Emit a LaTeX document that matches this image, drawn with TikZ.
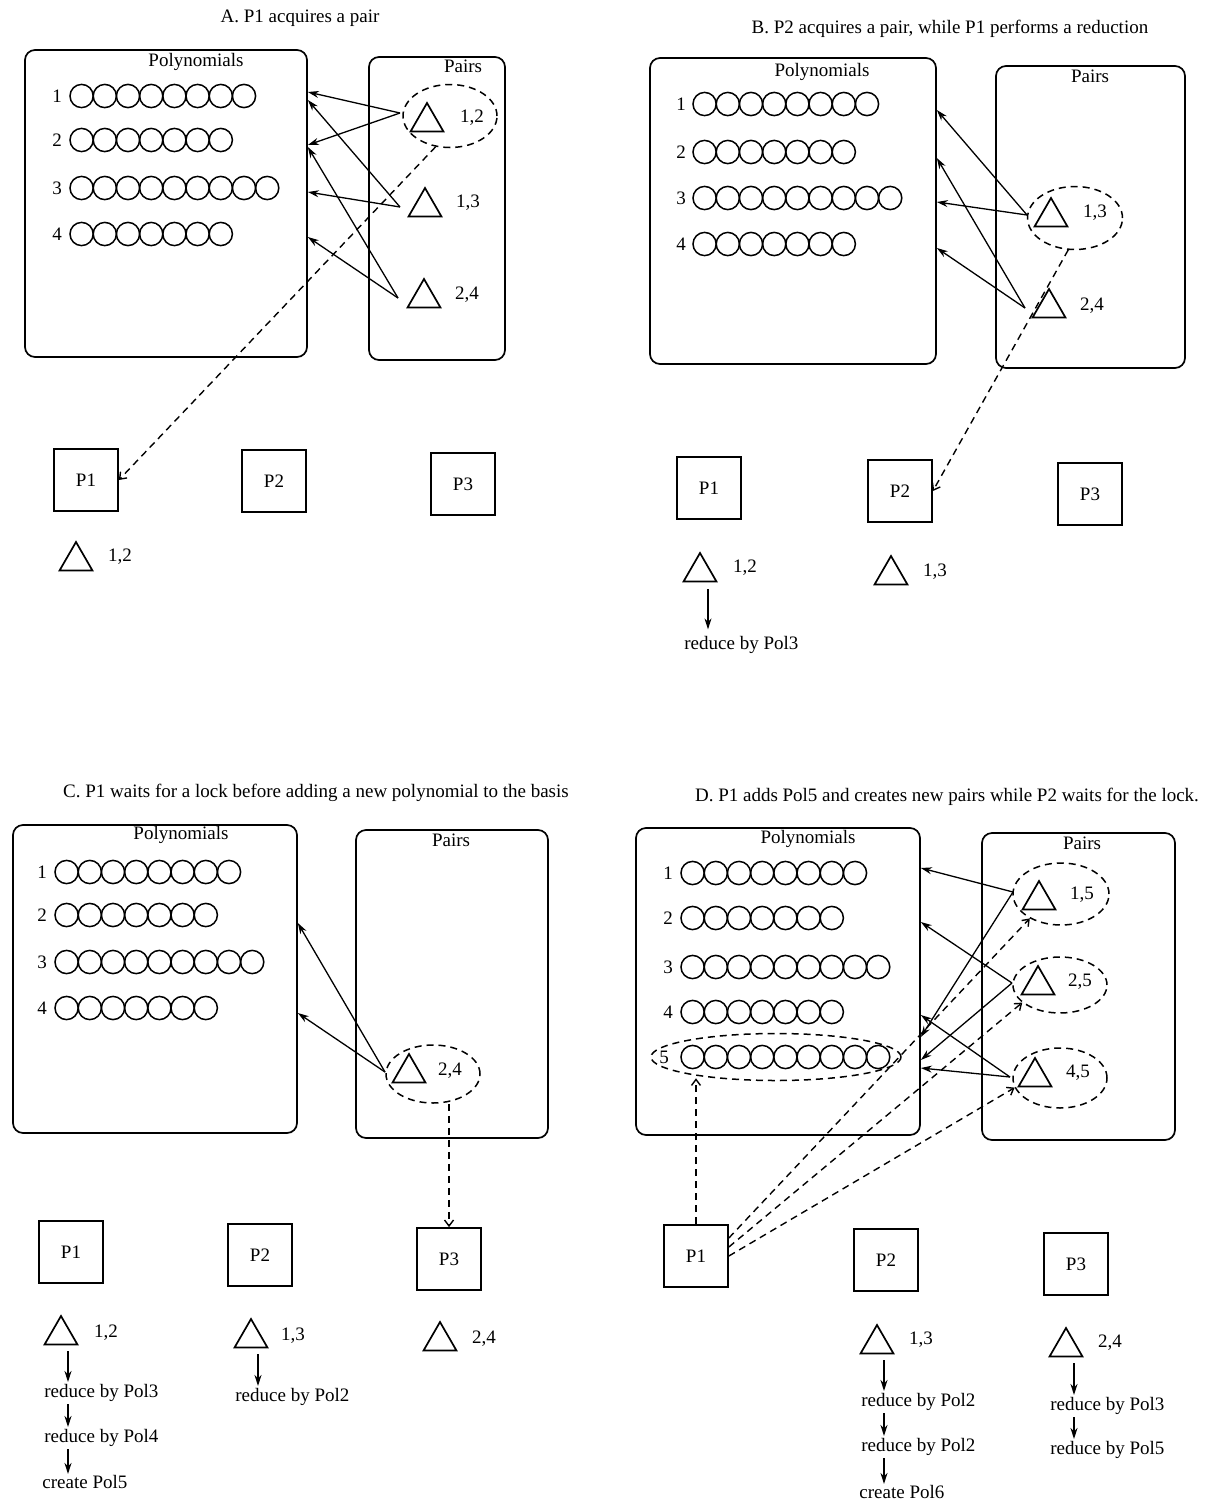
\documentclass[tikz,border=0pt]{standalone}
\usepackage{fontspec}
\setmainfont{Liberation Serif}
\usetikzlibrary{shapes.geometric,arrows.meta,calc,fit}
\newcommand\polrow[6]{%
  \node[inner sep=1pt] (#1) at (#2,#4) {#6};
  \foreach \k in {1,...,#5}{\draw[lw] ({#3+11.6+(\k-1)*23.2},#4) circle[radius=5.8pt];}}
\begin{document}
\begin{tikzpicture}[x=0.5pt,y=-0.5pt,
  every node/.style={font=\fontsize{9.5}{11}\selectfont},
  lw/.style={line width=0.75pt},
  box/.style={draw,line width=0.85pt,rounded corners=5pt,inner sep=0pt},
  proc/.style={draw,line width=0.85pt,minimum width=32pt,minimum height=31pt,inner sep=0pt},
  tri/.style={draw,line width=0.85pt,regular polygon,regular polygon sides=3,minimum size=19pt,inner sep=0pt},
  pe/.style={draw,ellipse,line width=0.75pt,dash pattern=on 3.5pt off 2.5pt,inner sep=0pt},
  sarr/.style={line width=0.65pt,-{Stealth[length=5.5pt,width=3.5pt]}},
  darr/.style={line width=0.7pt,dash pattern=on 3.5pt off 2.5pt,-{Straight Barb[length=3pt,width=4.5pt]}},
  rt/.style={anchor=west,inner sep=0pt}]
\path[fill=white] (0,0) rectangle (1220,1500);
\useasboundingbox (0,0) rectangle (1220,1500);

% ================= Panel A =================
\node (titA) at (300,18) {A. P1 acquires a pair};
\node[box, fit={(25,50) (307,357)}] (polyA) {};
\node (polA) at (196,62) {Polynomials};
\node[box, fit={(369,57) (505,360)}] (pairA) {};
\node (parA) at (463,66) {Pairs};
\polrow{A1}{57}{70}{96}{8}{1}
\polrow{A2}{57}{70}{140}{7}{2}
\polrow{A3}{57}{70}{188}{9}{3}
\polrow{A4}{57}{70}{234}{7}{4}
\node[tri] (tA12) at (427,122) {};
\node (lA12) at (472,118) {1,2};
\node[tri] (tA13) at (425,207) {};
\node (lA13) at (468,203) {1,3};
\node[tri] (tA24) at (424,298) {};
\node (lA24) at (467,295) {2,4};
\node[pe, minimum width=47pt, minimum height=31.5pt] (eA) at (450,116) {};
\coordinate (sA12) at ($(tA12)+(-27,-9)$);
\coordinate (sA13) at ($(tA13)+(-25,0)$);
\coordinate (sA24) at ($(tA24)+(-26,0)$);
\draw[sarr] (sA12) -- ($(polyA.east |- A1)+(0,-4)$);
\draw[sarr] (sA12) -- ($(polyA.east |- A2)+(0,5)$);
\draw[sarr] (sA13) -- ($(polyA.east |- A1)+(0,4)$);
\draw[sarr] (sA13) -- ($(polyA.east |- A3)+(0,4)$);
\draw[sarr] (sA24) -- ($(polyA.east |- A2)+(0,7)$);
\draw[sarr] (sA24) -- ($(polyA.east |- A4)+(0,3)$);
\node[proc] (P1A) at (86,480) {P1};
\node[proc] (P2A) at (274,481) {P2};
\node[proc] (P3A) at (463,484) {P3};
\draw[darr] (eA.245) -- (P1A.east);
\node[tri] (tA1) at (76,561) {};
\node (lA1) at (120,557) {1,2};

% ================= Panel B =================
\node (titB) at (950,29) {B. P2 acquires a pair, while P1 performs a reduction};
\node[box, fit={(650,58) (936,364)}] (polyB) {};
\node (polB) at (822,72) {Polynomials};
\node[box, fit={(996,66) (1185,368)}] (pairB) {};
\node (parB) at (1090,76) {Pairs};
\polrow{B1}{681}{693}{104}{8}{1}
\polrow{B2}{681}{693}{152}{7}{2}
\polrow{B3}{681}{693}{198}{9}{3}
\polrow{B4}{681}{693}{244}{7}{4}
\node[tri] (tB13) at (1051,217) {};
\node (lB13) at (1095,213) {1,3};
\node[tri] (tB24) at (1049,308) {};
\node (lB24) at (1092,306) {2,4};
\node[pe, minimum width=47.5pt, minimum height=31.5pt] (eB) at (1075,218) {};
\coordinate (sB13) at ($(tB13)+(-24,-2)$);
\coordinate (sB24) at ($(tB24)+(-24,0)$);
\draw[sarr] (sB13) -- ($(polyB.east |- B1)+(0,6)$);
\draw[sarr] (sB13) -- ($(polyB.east |- B3)+(0,4)$);
\draw[sarr] (sB24) -- ($(polyB.east |- B2)+(0,6)$);
\draw[sarr] (sB24) -- ($(polyB.east |- B4)+(0,4)$);
\node[proc] (P1B) at (709,488) {P1};
\node[proc] (P2B) at (900,491) {P2};
\node[proc] (P3B) at (1090,494) {P3};
\draw[darr] (eB.258) -- (P2B.east);
\node[tri] (tB1) at (700,572) {};
\node (lB1) at (745,568) {1,2};
\node[tri] (tB2) at (891,575) {};
\node (lB2) at (935,572) {1,3};
\node[rt] (rB1) at (684,645) {reduce by Pol3};
\draw[sarr] ($(tB1.south)+(8,7)$) -- ($(tB1.south)+(8,47)$);

% ================= Panel C =================
\node (titC) at (316,793) {C. P1 waits for a lock before adding a new polynomial to the basis};
\node[box, fit={(13,825) (297,1133)}] (polyC) {};
\node (polC) at (181,835) {Polynomials};
\node[box, fit={(356,830) (548,1138)}] (pairC) {};
\node (parC) at (451,840) {Pairs};
\polrow{C1}{42}{55}{872}{8}{1}
\polrow{C2}{42}{55}{915}{7}{2}
\polrow{C3}{42}{55}{962}{9}{3}
\polrow{C4}{42}{55}{1008}{7}{4}
\node[tri] (tC24) at (409,1073) {};
\node (lC24) at (450,1071) {2,4};
\node[pe, minimum width=47pt, minimum height=29pt] (eC) at (433,1074) {};
\coordinate (sC24) at ($(tC24)+(-24,-1)$);
\draw[sarr] (sC24) -- ($(polyC.east |- C2)+(0,8)$);
\draw[sarr] (sC24) -- ($(polyC.east |- C4)+(0,5)$);
\node[proc] (P1C) at (71,1252) {P1};
\node[proc] (P2C) at (260,1255) {P2};
\node[proc] (P3C) at (449,1259) {P3};
\draw[darr] (P3C.north |- eC.south) -- (P3C.north);
\node[tri] (tC1) at (61,1335) {};
\node (lC1) at (106,1333) {1,2};
\node[tri] (tC2) at (251,1338) {};
\node (lC2) at (293,1336) {1,3};
\node[tri] (tC3) at (440,1341) {};
\node (lC3) at (484,1339) {2,4};
\node[rt] (rC1) at (44,1393) {reduce by Pol3};
\node[rt] (rC2) at (44,1438) {reduce by Pol4};
\node[rt] (rC3) at (42,1482) {create Pol5};
\node[rt] (rC4) at (235,1397) {reduce by Pol2};
\draw[sarr] ($(tC1.south)+(7,6)$) -- ($(rC1.north west)+(24,-2)$);
\draw[sarr] ($(rC1.south west)+(24,2)$) -- ($(rC2.north west)+(24,-2)$);
\draw[sarr] ($(rC2.south west)+(24,2)$) -- ($(rC3.north west)+(26,-1)$);
\draw[sarr] ($(tC2.south)+(7,6)$) -- ($(rC4.north west)+(23,-2)$);

% ================= Panel D =================
\node (titD) at (947,797) {D. P1 adds Pol5 and creates new pairs while P2 waits for the lock.};
\node[box, fit={(636,828) (920,1135)}] (polyD) {};
\node (polD) at (808,839) {Polynomials};
\node[box, fit={(982,833) (1175,1140)}] (pairD) {};
\node (parD) at (1082,843) {Pairs};
\polrow{D1}{668}{681}{873}{8}{1}
\polrow{D2}{668}{681}{918}{7}{2}
\polrow{D3}{668}{681}{967}{9}{3}
\polrow{D4}{668}{681}{1012}{7}{4}
\polrow{D5}{664}{681}{1057}{9}{5}
\node[pe, minimum width=125pt, minimum height=23.5pt] (eD5) at (776,1057) {};
\node[tri] (tD15) at (1039,900) {};
\node (lD15) at (1082,895) {1,5};
\node[tri] (tD25) at (1038,985) {};
\node (lD25) at (1080,982) {2,5};
\node[tri] (tD45) at (1035,1077) {};
\node (lD45) at (1078,1073) {4,5};
\node[pe, minimum width=48pt, minimum height=31pt] (eD15) at (1061,894) {};
\node[pe, minimum width=47pt, minimum height=28pt] (eD25) at (1060,985) {};
\node[pe, minimum width=47pt, minimum height=30pt] (eD45) at (1060,1078) {};
\coordinate (sD15) at ($(tD15)+(-26,-8)$);
\coordinate (sD25) at ($(tD25)+(-26,-2)$);
\coordinate (sD45) at ($(tD45)+(-25,0)$);
\draw[sarr] (sD15) -- ($(polyD.east |- D1)+(0,-5)$);
\draw[sarr] (sD15) -- ($(polyD.east |- D5)+(0,-20)$);
\draw[sarr] (sD25) -- ($(polyD.east |- D2)+(0,4)$);
\draw[sarr] (sD25) -- ($(polyD.east |- D5)+(0,3)$);
\draw[sarr] (sD45) -- ($(polyD.east |- D4)+(0,3)$);
\draw[sarr] (sD45) -- ($(polyD.east |- D5)+(0,11)$);
\node[proc] (P1D) at (696,1256) {P1};
\node[proc] (P2D) at (886,1260) {P2};
\node[proc] (P3D) at (1076,1264) {P3};
\draw[darr] (P1D.north) -- ($(P1D.north |- eD5.south)+(0,-3)$);
\draw[darr] ($(P1D.east)+(0,-18)$) -- (eD15.218);
\draw[darr] ($(P1D.east)+(0,-9)$) -- (eD25.205);
\draw[darr] ($(P1D.east)+(0,0)$) -- (eD45.192);
\node[tri] (tD2) at (877,1344) {};
\node (lD2) at (921,1340) {1,3};
\node[tri] (tD3) at (1066,1347) {};
\node (lD3) at (1110,1343) {2,4};
\node[rt] (rD1) at (861,1402) {reduce by Pol2};
\node[rt] (rD2) at (861,1447) {reduce by Pol2};
\node[rt] (rD3) at (859,1492) {create Pol6};
\node[rt] (rD4) at (1050,1406) {reduce by Pol3};
\node[rt] (rD5) at (1050,1450) {reduce by Pol5};
\draw[sarr] ($(tD2.south)+(7,6)$) -- ($(rD1.north west)+(23,-2)$);
\draw[sarr] ($(rD1.south west)+(23,2)$) -- ($(rD2.north west)+(23,-2)$);
\draw[sarr] ($(rD2.south west)+(23,2)$) -- ($(rD3.north west)+(25,-1)$);
\draw[sarr] ($(tD3.south)+(8,6)$) -- ($(rD4.north west)+(24,-2)$);
\draw[sarr] ($(rD4.south west)+(24,2)$) -- ($(rD5.north west)+(24,-2)$);
\end{tikzpicture}
\end{document}
